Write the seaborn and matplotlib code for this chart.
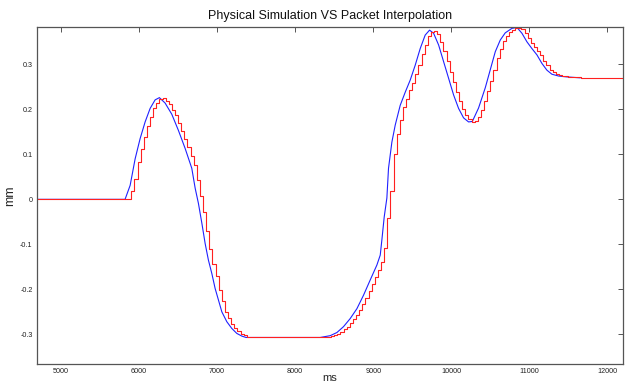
import numpy as np
import pandas as pd
import matplotlib
matplotlib.use("Agg")
import matplotlib.pyplot as plt
import seaborn as sns

# ---------------- data ----------------
# Physical simulation (smooth curve), time in ms, position in mm
sim_ms = [4688, 5820, 5885, 5949, 6013, 6077, 6141, 6205, 6260, 6333, 6419, 6504,
          6590, 6675, 6718, 6760, 6804, 6846, 6888, 6932, 6974, 7017, 7060, 7124,
          7188, 7252, 7317, 7370, 8320, 8449, 8535, 8619, 8705, 8791, 8876, 8962,
          9047, 9090, 9111, 9141, 9175, 9196, 9239, 9282, 9346, 9410, 9474, 9538,
          9602, 9666, 9722, 9774, 9838, 9902, 9966, 10030, 10094, 10158, 10222, 10270,
          10350, 10436, 10500, 10564, 10628, 10692, 10778, 10842, 10906, 10970, 11034,
          11098, 11162, 11226, 11290, 11376, 11483, 11654]
sim_mm = [0.0, 0.0, 0.031, 0.090, 0.135, 0.172, 0.202, 0.221, 0.226, 0.214, 0.189, 0.153,
          0.113, 0.069, 0.025, -0.009, -0.053, -0.098, -0.135, -0.165, -0.198, -0.224, -0.250, -0.272,
          -0.287, -0.298, -0.304, -0.307, -0.307, -0.303, -0.296, -0.283, -0.265, -0.243, -0.213, -0.179,
          -0.146, -0.124, -0.090, -0.039, 0.003, 0.069, 0.127, 0.165, 0.209, 0.238, 0.265, 0.298,
          0.335, 0.365, 0.376, 0.369, 0.343, 0.306, 0.269, 0.232, 0.202, 0.181, 0.172, 0.173,
          0.203, 0.248, 0.288, 0.328, 0.354, 0.370, 0.380, 0.382, 0.369, 0.350, 0.335,
          0.321, 0.302, 0.287, 0.278, 0.274, 0.272, 0.270]

# Packet interpolation (held values, one per packet)
recording_start_ms = 4688
recording_end_ms = 12300
first_packet_ms = 5860
packet_interval_ms = 40
packet_mm = [0.0, 0.019, 0.045, 0.082, 0.112, 0.139, 0.162, 0.183, 0.202, 0.214,
             0.222, 0.226, 0.219, 0.211, 0.199, 0.187, 0.169, 0.152, 0.135, 0.117,
             0.097, 0.077, 0.043, 0.007, -0.029, -0.070, -0.110, -0.143, -0.171, -0.202,
             -0.226, -0.250, -0.264, -0.276, -0.285, -0.293, -0.299, -0.302, -0.305, -0.307,
             -0.307, -0.307, -0.307, -0.307, -0.307, -0.307, -0.307, -0.307, -0.307, -0.307,
             -0.307, -0.307, -0.307, -0.307, -0.307, -0.307, -0.307, -0.307, -0.307, -0.307,
             -0.307, -0.307, -0.307, -0.306, -0.305, -0.304, -0.302, -0.299, -0.295, -0.289,
             -0.283, -0.275, -0.266, -0.256, -0.246, -0.233, -0.219, -0.204, -0.188, -0.172,
             -0.156, -0.139, -0.108, -0.041, 0.019, 0.101, 0.146, 0.177, 0.205, 0.224,
             0.242, 0.259, 0.278, 0.299, 0.322, 0.343, 0.362, 0.372, 0.374, 0.367,
             0.350, 0.330, 0.307, 0.284, 0.261, 0.238, 0.218, 0.200, 0.187, 0.178,
             0.172, 0.173, 0.184, 0.199, 0.219, 0.240, 0.263, 0.288, 0.313, 0.335,
             0.351, 0.362, 0.371, 0.376, 0.380, 0.381, 0.378, 0.370, 0.359, 0.348,
             0.338, 0.329, 0.321, 0.308, 0.298, 0.288, 0.282, 0.278, 0.276, 0.274,
             0.273, 0.272, 0.272, 0.271, 0.271, 0.270]

x_ticks = [5000, 6000, 7000, 8000, 9000, 10000, 11000, 12000]
y_ticks = [-0.3, -0.2, -0.1, 0, 0.1, 0.2, 0.3]
y_tick_labels = ["-0.3", "-0.2", "-0.1", "0", "0.1", "0.2", "0.3"]

# ---------------- build tables ----------------
sim = pd.DataFrame({"ms": sim_ms, "mm": sim_mm})
pkt_ms = first_packet_ms + packet_interval_ms * np.arange(len(packet_mm))
pkt = pd.DataFrame({
    "ms": np.concatenate([[recording_start_ms], pkt_ms, [recording_end_ms]]),
    "mm": np.concatenate([[0.0], packet_mm, [packet_mm[-1]]]),
})

# ---------------- plot ----------------
sns.set_style("white")
plt.rcParams["font.family"] = ["Liberation Sans", "DejaVu Sans"]
plt.rcParams["axes.unicode_minus"] = False

fig = plt.figure(figsize=(6.3, 3.85), dpi=100)
ax = fig.add_axes([0.0583, 0.0545, 0.9311, 0.8761])

sns.lineplot(data=sim, x="ms", y="mm", ax=ax, color="#2020ff", linewidth=0.8,
             estimator=None, sort=False)
sns.lineplot(data=pkt, x="ms", y="mm", ax=ax, color="#ff2020", linewidth=0.8,
             estimator=None, sort=False, drawstyle="steps-post")

ax.set_xlim(4688, 12205)
ax.set_ylim(-0.366, 0.3836)
ax.set_xticks(x_ticks)
ax.set_xticklabels([str(v) for v in x_ticks])
ax.set_yticks(y_ticks)
ax.set_yticklabels(y_tick_labels)

ax.tick_params(direction="in", length=3.5, width=0.7, color="#555555",
               labelsize=5.2, labelcolor="#222222", top=True, right=True,
               labeltop=False, labelright=False, pad=3)
for s in ax.spines.values():
    s.set_color("#555555")
    s.set_linewidth(0.9)

ax.set_title("Physical Simulation VS Packet Interpolation", fontsize=9, pad=5.5,
             color="#111111")
ax.set_xlabel("ms", fontsize=8, labelpad=-1.5)
ax.set_ylabel("mm", fontsize=9, labelpad=3)

fig.savefig("out.png", dpi=100)
